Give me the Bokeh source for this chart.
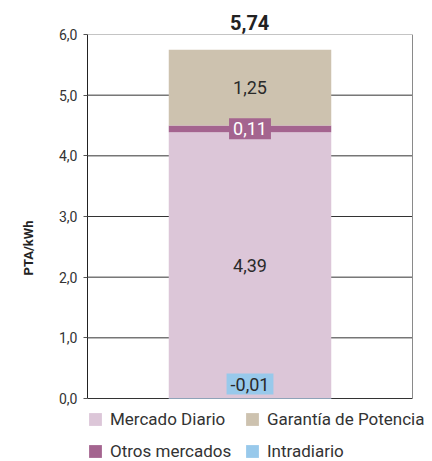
from bokeh.plotting import figure
from bokeh.models import (Range1d, Label, Legend, LegendItem, ColumnDataSource,
                          FixedTicker, CustomJSTickFormatter)
from bokeh.embed import file_html
from bokeh.resources import INLINE

# ---- data ----
series = ["Mercado Diario", "Otros mercados", "Garantía de Potencia", "Intradiario"]
values = [4.39, 0.11, 1.25, -0.01]
colors = ["#DCC6D8", "#A4648F", "#CDC2AF", "#98C9EB"]
label_text_colors = ["#2a2a2a", "#FFFFFF", "#2a2a2a", "#2a2a2a"]
label_boxes = [None, "#A4648F", None, "#98C9EB"]
legend_col1 = ["Mercado Diario", "Otros mercados"]
legend_col2 = ["Garantía de Potencia", "Intradiario"]
y_ticks = [0, 1, 2, 3, 4, 5, 6]
y_axis_title = "PTA/kWh"

FONT = "Roboto"

def fmt(v, d):
    return f"{v:.{d}f}".replace(".", ",")

total = sum(values)
y_min, y_max = y_ticks[0], y_ticks[-1]

bottoms, tops = [], []
pos = 0.0
neg = 0.0
for v in values:
    if v >= 0:
        bottoms.append(pos)
        pos += v
        tops.append(pos)
    else:
        tops.append(neg)
        neg += v
        bottoms.append(neg)

src = ColumnDataSource(dict(x=[0.5] * len(values), bottom=bottoms, top=tops,
                            color=colors, name=series))

# layout (pixels): plot box 87..412 x 34..398, legend below it inside the same canvas
W, H = 432, 461
box_left, box_right, box_top, box_bottom = 87, 412, 34, 398
px_per_unit_y = (box_bottom - box_top) / (y_max - y_min)
y_start = y_min - (H - box_bottom) / px_per_unit_y
x_end = (W - box_left) / (box_right - box_left)

p = figure(width=W, height=H, x_range=Range1d(0, x_end), y_range=Range1d(y_start, y_max),
           output_backend="svg", toolbar_location=None, x_axis_type=None,
           min_border_left=box_left, min_border_right=0, min_border_top=box_top,
           min_border_bottom=0)
p.outline_line_color = None
p.ygrid.visible = False

# total value shown as the title, centred over the plot box
p.title.text = fmt(total, 2)
p.title.align = "left"
p.title.offset = (box_right - box_left) / 2 - 20
p.title.text_font = FONT
p.title.text_font_size = "20px"
p.title.text_font_style = "bold"
p.title.text_color = "#222222"
p.title.standoff = 10

ax = p.yaxis[0]
ax.bounds = (y_min, y_max)
ax.ticker = FixedTicker(ticks=y_ticks)
ax.formatter = CustomJSTickFormatter(code="return tick.toFixed(1).replace('.', ',');")
ax.axis_line_color = "#222222"
ax.major_tick_line_color = "#555555"
ax.major_tick_out = 4
ax.major_tick_in = 0
ax.minor_tick_line_color = None
ax.major_label_text_font = FONT
ax.major_label_text_font_size = "14px"
ax.major_label_text_color = "#333333"
ax.major_label_standoff = 6
ax.axis_label = y_axis_title
ax.axis_label_text_font = FONT
ax.axis_label_text_font_size = "13px"
ax.axis_label_text_font_style = "bold"
ax.axis_label_text_color = "#222222"
ax.axis_label_standoff = 20

# grid lines and right edge of the plot box
grid_colors = ["#8a8a8a" if t == y_max else "#333333" for t in y_ticks]
p.segment(x0=[0] * len(y_ticks), x1=[1] * len(y_ticks), y0=y_ticks, y1=y_ticks,
          line_color=grid_colors, line_width=1)
p.segment(x0=[1], x1=[1], y0=[y_min], y1=[y_max], line_color="#8a8a8a", line_width=1)

r = p.vbar(x="x", width=0.5, bottom="bottom", top="top", color="color",
           line_color=None, source=src)

for i, v in enumerate(values):
    if v >= 0:
        y = (bottoms[i] + tops[i]) / 2
        base = "middle"
        yoff = 0
    else:
        y = 0
        base = "bottom"
        yoff = 4
    lab = Label(x=0.5, y=y, text=fmt(v, 2), text_align="center", text_baseline=base,
                y_offset=yoff, text_font=FONT, text_font_size="18px",
                text_color=label_text_colors[i], padding=4)
    if label_boxes[i] is not None:
        lab.background_fill_color = label_boxes[i]
    p.add_layout(lab)

def make_legend(names, loc):
    items = [LegendItem(label=n, renderers=[r], index=series.index(n)) for n in names]
    return Legend(items=items, location=loc, glyph_width=16, glyph_height=16,
                  label_standoff=7, spacing=8, padding=0, margin=0,
                  border_line_color=None, background_fill_color=None,
                  label_text_font=FONT, label_text_font_size="17px",
                  label_text_color="#333333", label_height=24)

p.add_layout(make_legend(legend_col1, (0, -2)), "center")
p.add_layout(make_legend(legend_col2, (157, -2)), "center")

open("out.html", "w").write(file_html(p, INLINE))
